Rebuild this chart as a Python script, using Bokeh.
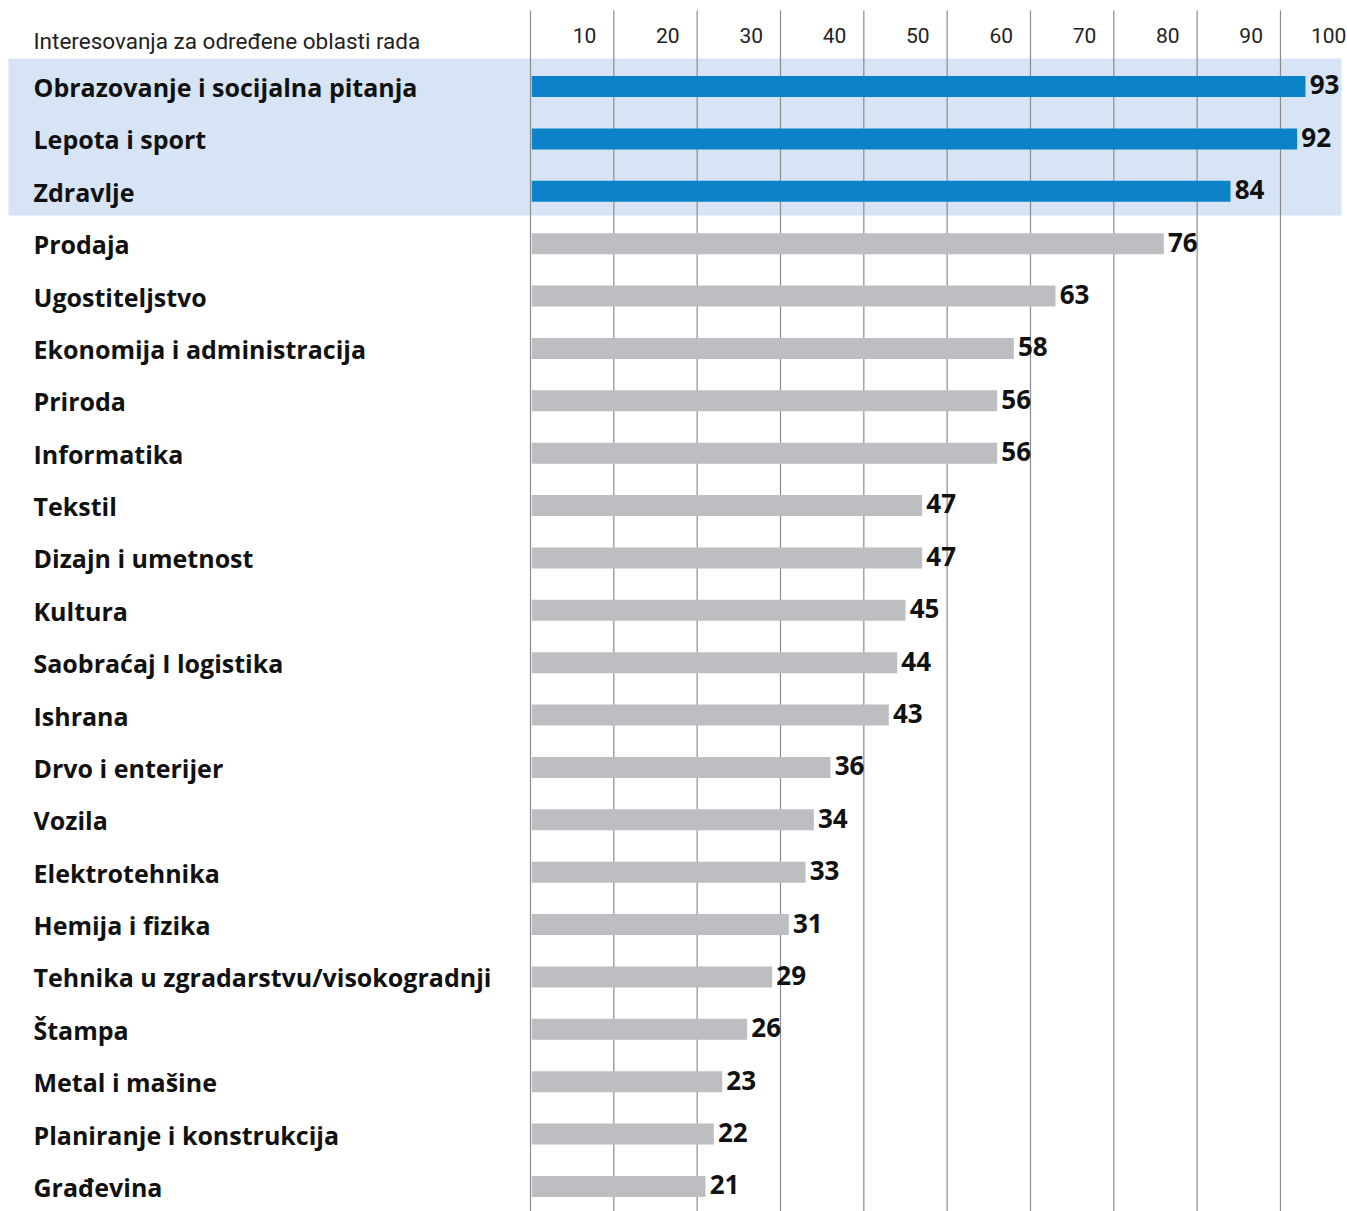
from bokeh.plotting import figure
from bokeh.models import Range1d
from bokeh.core.properties import value
from bokeh.embed import file_html
from bokeh.resources import INLINE

title = "Interesovanja za određene oblasti rada"
categories = [
    "Obrazovanje i socijalna pitanja", "Lepota i sport", "Zdravlje", "Prodaja",
    "Ugostiteljstvo", "Ekonomija i administracija", "Priroda", "Informatika",
    "Tekstil", "Dizajn i umetnost", "Kultura", "Saobraćaj I logistika",
    "Ishrana", "Drvo i enterijer", "Vozila", "Elektrotehnika",
    "Hemija i fizika", "Tehnika u zgradarstvu/visokogradnji", "Štampa",
    "Metal i mašine", "Planiranje i konstrukcija", "Građevina",
]
values = [93, 92, 84, 76, 63, 58, 56, 56, 47, 47, 45, 44, 43, 36, 34, 33, 31, 29, 26, 23, 22, 21]
highlighted = 3
tick_values = [10, 20, 30, 40, 50, 60, 70, 80, 90, 100]
grid_values = [0, 10, 20, 30, 40, 50, 60, 70, 80, 90, 100]

# layout constants (screen pixels)
W, H = 1347, 1211
PX_PER_UNIT = 8.333
X0_PX = 530.0
ROW_PX = 52.38
ROW0_PX = 86.0

def xd(px):
    return (px - X0_PX) / PX_PER_UNIT

def yd(px):
    return (px - ROW0_PX) / ROW_PX

BLUE = "#0c83c8"
GREY = "#bdbec2"
BAND = "#d7e4f5"
GRID = "#8c8c8c"
FONT_B = "Open Sans"
FONT_R = "Roboto"

p = figure(width=W, height=H, output_backend="svg", toolbar_location=None,
           x_range=Range1d(xd(0), xd(W)), y_range=Range1d(yd(H), yd(0)),
           min_border=0, outline_line_color=None)
p.axis.visible = False
p.grid.visible = False
p.background_fill_color = "white"
p.border_fill_color = "white"

# highlight band
p.quad(left=xd(8), right=xd(1341), top=yd(58), bottom=yd(215),
       fill_color=BAND, line_color=None)

# grid lines
p.segment(x0=grid_values, x1=grid_values, y0=[yd(10)] * len(grid_values),
          y1=[yd(H)] * len(grid_values), line_color=GRID, line_width=1.2)

rows = list(range(len(categories)))
colors = [BLUE if i < highlighted else GREY for i in rows]
p.hbar(y=rows, left=0.15, right=values, height=21 / ROW_PX, fill_color=colors, line_color=None)

# value labels
p.text(x=[v + 0.5 for v in values], y=[r - 0.03 for r in rows], text=[str(v) for v in values],
       text_font=value(FONT_B), text_font_style="bold", text_font_size="26px",
       text_baseline="middle", text_align="left", text_color="#111111")

# category labels
p.text(x=[xd(33)] * len(rows), y=[r + 0.01 for r in rows], text=categories,
       text_font=value(FONT_B), text_font_style="bold", text_font_size="25px",
       text_baseline="middle", text_align="left", text_color="#111111")

# tick labels
p.text(x=[t - 2.1 for t in tick_values], y=[yd(35)] * len(tick_values),
       text=[str(t) for t in tick_values], text_font=value(FONT_R),
       text_font_size="21px", text_baseline="middle", text_align="right",
       text_color="#222222")

# title
p.text(x=[xd(33)], y=[yd(40)], text=[title], text_font=value(FONT_R),
       text_font_size="22.5px", text_baseline="middle", text_align="left",
       text_color="#222222")

open("out.html", "w").write(file_html(p, INLINE))
